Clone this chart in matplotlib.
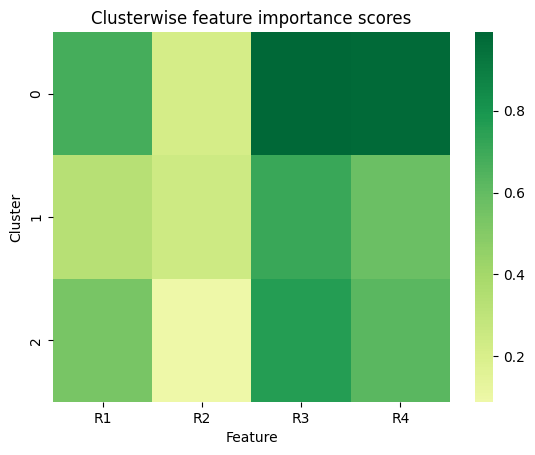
import matplotlib
matplotlib.use("Agg")
import matplotlib.pyplot as plt
import numpy as np
import seaborn as sns

features = ["R1", "R2", "R3", "R4"]
clusters = ["0", "1", "2"]
scores = np.array([
    [0.677, 0.218, 0.993, 0.982],
    [0.331, 0.242, 0.711, 0.577],
    [0.537, 0.088, 0.760, 0.625],
])
cbar_ticks = [0.2, 0.4, 0.6, 0.8]

fig = plt.figure(figsize=(5.35, 4.55), dpi=100)
ax = fig.add_axes([0.099, 0.1165, 0.742, 0.813])
cax = fig.add_axes([0.888, 0.1165, 0.0336, 0.813])

sns.heatmap(scores, cmap="RdYlGn", center=0, ax=ax, cbar_ax=cax,
            xticklabels=features, yticklabels=clusters,
            cbar_kws={"ticks": cbar_ticks})
ax.set_title("Clusterwise feature importance scores")
ax.set_xlabel("Feature")
ax.set_ylabel("Cluster")

fig.savefig("out.png", dpi=100)
